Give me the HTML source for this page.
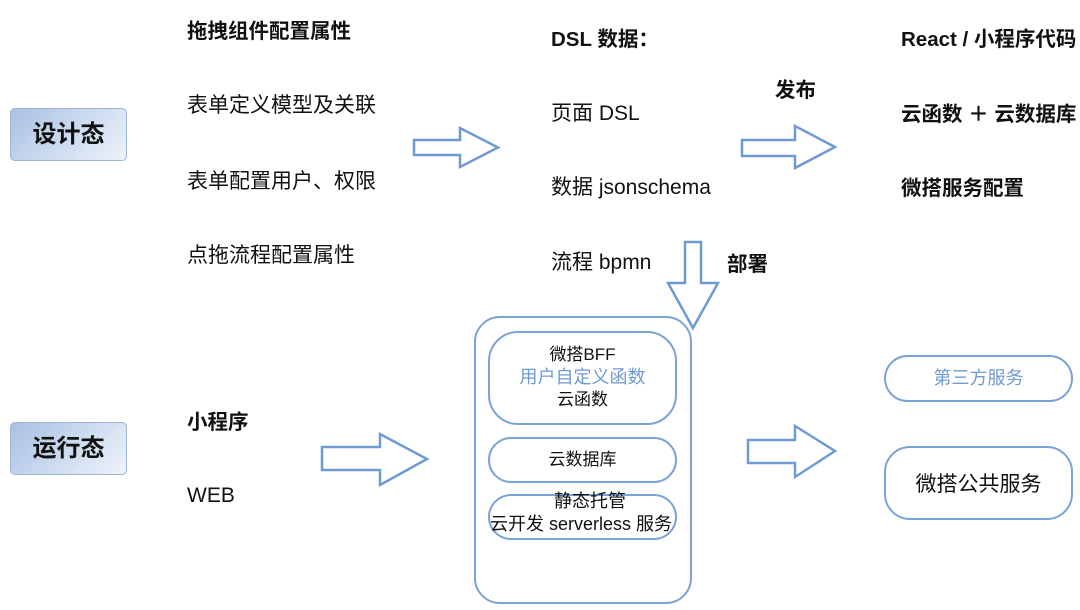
<!DOCTYPE html>
<html><head><meta charset="utf-8"><style>
body{margin:0;width:1080px;height:610px;background:#fff;position:relative;overflow:hidden;font-family:"Liberation Sans","Noto Sans CJK SC",sans-serif;color:#111}
.t{position:absolute;font-size:21px;white-space:nowrap;line-height:24px}
.b{font-weight:bold;font-size:20.5px}
.lab{position:absolute;border:1px solid #9db5d8;border-radius:5px;background:linear-gradient(135deg,#a9c1e3,#eef3fb);font-weight:bold;font-size:24px;text-align:center;box-sizing:border-box}
.r{position:absolute;border:2px solid #7aa3d8;box-sizing:border-box;text-align:center}
svg{position:absolute;left:0;top:0}
</style></head><body>
<svg width="1080" height="610">
<g fill="#fff" stroke="#6f9bd4" stroke-width="2.5" stroke-linejoin="miter">
<polygon points="414,140 460,140 460,128 498,147.5 460,167 460,155 414,155"/>
<polygon points="742,140 795,140 795,126 835,147 795,168 795,156 742,156"/>
<polygon points="322,447 380,447 380,434 427,459 380,485 380,470 322,470"/>
<polygon points="748,440 795,440 795,426 835,451 795,477 795,463 748,463"/>
<polygon points="685,242 701,242 701,283 718,283 693,328 668,283 685,283"/>
</g>
</svg>
<div class="lab" style="left:10px;top:108px;width:117px;height:53px;line-height:51px">设计态</div>
<div class="lab" style="left:10px;top:422px;width:117px;height:53px;line-height:51px">运行态</div>
<div class="t b" style="left:187px;top:20px">拖拽组件配置属性</div>
<div class="t" style="left:187px;top:94px">表单定义模型及关联</div>
<div class="t" style="left:187px;top:170px">表单配置用户、权限</div>
<div class="t" style="left:187px;top:244px">点拖流程配置属性</div>
<div class="t b" style="left:551px;top:28px">DSL 数据：</div>
<div class="t" style="left:551px;top:102px">页面 DSL</div>
<div class="t" style="left:551px;top:176px">数据 jsonschema</div>
<div class="t" style="left:551px;top:251px">流程 bpmn</div>
<div class="t b" style="left:775px;top:79px">发布</div>
<div class="t b" style="left:727px;top:253px">部署</div>
<div class="t b" style="left:901px;top:28px">React / 小程序代码</div>
<div class="t b" style="left:901px;top:103px">云函数 ＋ 云数据库</div>
<div class="t b" style="left:901px;top:177px">微搭服务配置</div>
<div class="t b" style="left:187px;top:411px">小程序</div>
<div class="t" style="left:187px;top:484px">WEB</div>
<div class="r" style="left:474px;top:316px;width:218px;height:288px;border-radius:26px"></div>
<div class="r" style="left:488px;top:331px;width:189px;height:94px;border-radius:30px;font-size:17px;line-height:22px;padding-top:11px">微搭BFF<br><span style="color:#6f9bd4;font-size:18px">用户自定义函数</span><br>云函数</div>
<div class="r" style="left:488px;top:437px;width:189px;height:46px;border-radius:23px;font-size:17px;line-height:42px">云数据库</div>
<div class="r" style="left:488px;top:494px;width:189px;height:46px;border-radius:23px"></div>
<div class="t" style="left:554px;top:491px;font-size:18px;line-height:21px">静态托管</div>
<div class="t" style="left:490px;top:514px;font-size:18px;line-height:21px">云开发 serverless 服务</div>
<div class="r" style="left:884px;top:355px;width:189px;height:47px;border-radius:24px;color:#6f9bd4;font-size:18px;line-height:43px">第三方服务</div>
<div class="r" style="left:884px;top:446px;width:189px;height:74px;border-radius:26px;font-size:21px;line-height:74px">微搭公共服务</div>
</body></html>
